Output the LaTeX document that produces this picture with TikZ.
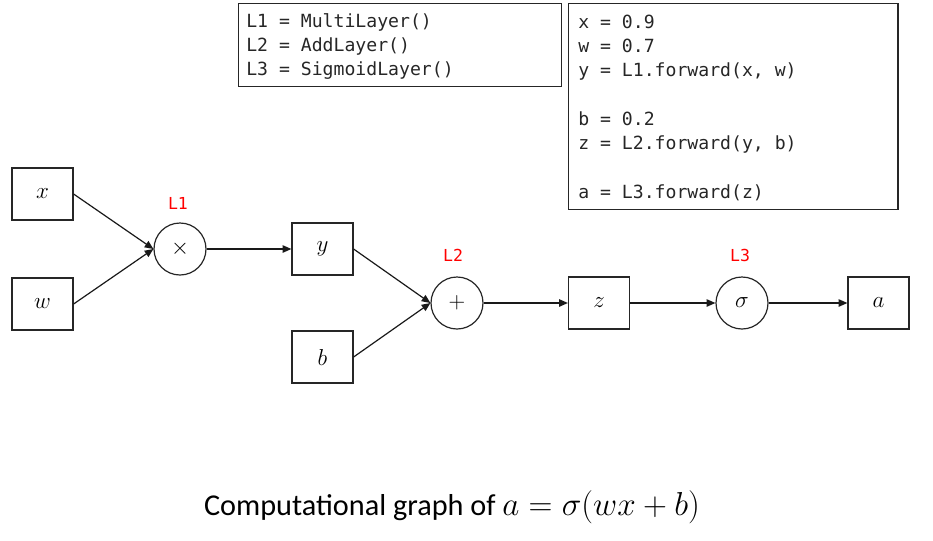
\documentclass[tikz,border=0pt]{standalone}
\usepackage{fontspec}
\setmainfont{Carlito}
\setmonofont{DejaVu Sans Mono}
\usetikzlibrary{arrows.meta}
\newcommand{\kb}{\phantom{0}}
\tikzset{
  var/.style={draw=black!85, line width=0.9pt, minimum width=45.75pt, minimum height=39pt, inner sep=0pt, font=\fontsize{19}{20}\selectfont},
  op/.style={draw=black!85, line width=0.9pt, circle, minimum size=39pt, inner sep=0pt, font=\fontsize{18}{20}\selectfont},
  lay/.style={text=red, font=\ttfamily\fontsize{12.4}{14}\selectfont, inner sep=0pt},
  codebox/.style={draw=black!85, line width=0.9pt, anchor=north west, inner sep=0pt},
  codetext/.style={anchor=north west, align=left, inner sep=0pt, text=black!85, font=\ttfamily\fontsize{13.6}{18.2}\selectfont},
  conn/.style={line width=0.9pt, draw=black!90, -{Triangle[length=6.5pt,width=5.5pt]}},
}
\begin{document}
\begin{tikzpicture}[x=0.75pt,y=-0.75pt]
\useasboundingbox (0,0) rectangle (933,540);
% code boxes
\node[codebox, minimum width=242pt, minimum height=62pt] (defs) at (238,3) {};
\node[codetext] (defstext) at (246,10)
  {\strut L1\kb=\kb MultiLayer()\\L2\kb=\kb AddLayer()\\L3\kb=\kb SigmoidLayer()};
\node[codebox, minimum width=247pt, minimum height=154.5pt] (calls) at (568,3) {};
\node[codetext] (callstext) at (578,11)
  {\strut x\kb=\kb 0.9\\w\kb=\kb 0.7\\y\kb=\kb L1.forward(x,\kb w)\\\mbox{}\\b\kb=\kb 0.2\\z\kb=\kb L2.forward(y,\kb b)\\\mbox{}\\a\kb=\kb L3.forward(z)};
% graph nodes
\node[var] (x) at (42.5,194) {$x$};
\node[var] (w) at (42.5,304) {$w$};
\node[op]  (mul) at (180,249) {$\times$};
\node[var] (y) at (322.5,249) {$y$};
\node[var] (b) at (322.5,357) {$b$};
\node[op]  (add) at (457,303) {$+$};
\node[var] (z) at (599,303) {$z$};
\node[op]  (sig) at (742,303) {$\sigma$};
\node[var] (a) at (878.5,303) {$a$};
% layer labels
\node[lay] (l1) at (178,203) {L1};
\node[lay] (l2) at (453,255) {L2};
\node[lay] (l3) at (740,255) {L3};
% connectors
\draw[conn] (x.east) -- (mul.west);
\draw[conn] (w.east) -- (mul.west);
\draw[conn] (mul.east) -- (y.west);
\draw[conn] (y.east) -- (add.west);
\draw[conn] (b.east) -- (add.west);
\draw[conn] (add.east) -- (z.west);
\draw[conn] (z.east) -- (sig.west);
\draw[conn] (sig.east) -- (a.west);
% caption
\node[font=\fontsize{22.7}{27}\selectfont] (cap) at (452,507) {Computational graph of {\fontsize{26}{27}\selectfont$a=\sigma(wx+b)$}};
\end{tikzpicture}
\end{document}
